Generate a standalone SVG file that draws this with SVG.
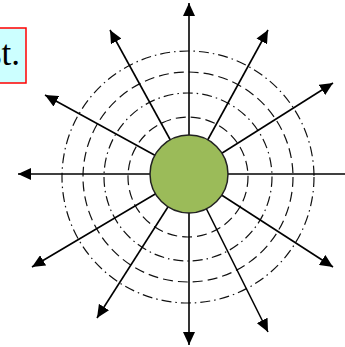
<svg xmlns="http://www.w3.org/2000/svg" width="345" height="347" viewBox="0 0 345 347">
<style>
.ray{stroke:#000;stroke-width:1.6;fill:none;marker-end:url(#ah)}
.ring{fill:none;stroke:#111;stroke-width:1.2}
.dd{stroke-dasharray:10 4 1.5 4}
.ds{stroke-dasharray:10 5}
.lbl{font-family:"Liberation Serif","Times New Roman",serif;font-size:35px;fill:#000}
</style>
<defs>
<marker id="ah" markerUnits="userSpaceOnUse" markerWidth="14" markerHeight="12" refX="13" refY="6" orient="auto">
<path d="M0,0 L13,6 L0,12 Z" fill="#000"/>
</marker>
</defs>
<rect width="345" height="347" fill="#fff"/>
<g id="label">
<rect x="-20" y="28" width="46" height="55" fill="#ccffff" stroke="#ff0000" stroke-width="1.5"/>
<text class="lbl" x="-12" y="65">st.</text>
</g>
<g id="rings">
<circle class="ring dd" cx="188" cy="177" r="126"/>
<circle class="ring ds" cx="188" cy="177" r="105"/>
<circle class="ring dd" cx="188" cy="177" r="84"/>
<circle class="ring ds" cx="188" cy="177" r="60"/>
</g>
<g id="connectors">
<line class="ray" x1="189" y1="174" x2="189" y2="3"/>
<line class="ray" x1="189" y1="174" x2="189" y2="345"/>
<line class="ray" x1="189" y1="174" x2="18" y2="174"/>
<line class="ray" x1="189" y1="174" x2="358" y2="174"/>
<line class="ray" x1="189" y1="174" x2="110" y2="30"/>
<line class="ray" x1="189" y1="174" x2="268" y2="30"/>
<line class="ray" x1="189" y1="174" x2="45" y2="95"/>
<line class="ray" x1="189" y1="174" x2="333" y2="83"/>
<line class="ray" x1="189" y1="174" x2="32" y2="267"/>
<line class="ray" x1="189" y1="174" x2="333" y2="267"/>
<line class="ray" x1="189" y1="174" x2="97" y2="318"/>
<line class="ray" x1="189" y1="174" x2="268" y2="332"/>
</g>
<g id="charge">
<circle cx="189" cy="174" r="39" fill="#9bbb59" stroke="#222" stroke-width="1.5"/>
</g>
</svg>
